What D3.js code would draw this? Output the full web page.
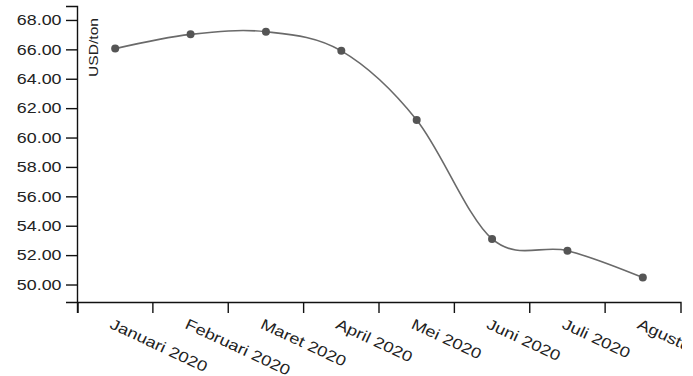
<!DOCTYPE html>
<html>
<head>
<meta charset="utf-8">
<script src="https://cdn.jsdelivr.net/npm/d3@7"></script>
<style>
  html, body { margin: 0; padding: 0; background: #fff; }
  svg { display: block; }
  text { font-family: "Liberation Sans", Arial, sans-serif; fill: #222; }
</style>
</head>
<body>
<svg id="chart" width="693" height="376"></svg>
<script>
const months = ["Januari 2020", "Februari 2020", "Maret 2020", "April 2020", "Mei 2020", "Juni 2020", "Juli 2020", "Agustus 2020"];
const prices = [66.05, 67.02, 67.2, 65.9, 61.2, 53.1, 52.3, 50.47];
const yTicks = [50, 52, 54, 56, 58, 60, 62, 64, 66, 68];
const yLabel = "USD/ton";

const svg = d3.select("#chart");
const mLeft = 77, mTop = 6, mBottom = 302;

// the reference frame cuts everything past x = 682
svg.append("defs").append("clipPath").attr("id", "frame")
  .append("rect").attr("x", 0).attr("y", 0).attr("width", 682).attr("height", 376);

const g = svg.append("g").attr("clip-path", "url(#frame)")
  .append("g").attr("transform", `translate(${mLeft},0)`);

const x = d3.scaleBand().domain(months).range([0.5, 603.5]);
const y = d3.scaleLinear().domain([48.81, 68.95]).range([mBottom, mTop]);

// Y axis
const yAxis = g.append("g")
  .call(d3.axisLeft(y).tickValues(yTicks).tickFormat(d3.format(".2f")).tickSize(11).tickSizeOuter(11));
yAxis.selectAll("path, line").attr("stroke", "#111").attr("stroke-width", 1.4);
yAxis.selectAll("text")
  .attr("x", 0)
  .attr("transform", "translate(-15.5,0) scale(1.19,1)")
  .style("font-size", "15px").attr("fill", "#222");

// X axis
const xAxis = g.append("g").attr("transform", `translate(0,${mBottom})`)
  .call(d3.axisBottom(x).tickSize(11).tickSizeOuter(11));
xAxis.selectAll("path, line").attr("stroke", "#111").attr("stroke-width", 1.4);
xAxis.selectAll(".tick line").attr("x1", -x.bandwidth() / 2).attr("x2", -x.bandwidth() / 2);
xAxis.selectAll(".tick text")
  .attr("x", 0).attr("y", 0).attr("dy", "0.71em")
  .attr("transform", "translate(-2,16) rotate(25) scale(1.22,1)")
  .style("text-anchor", "start")
  .style("font-size", "15px").attr("fill", "#222");

// Y label
g.append("text")
  .attr("transform", "translate(21,18) rotate(-90) scale(1.2,1)")
  .style("text-anchor", "end")
  .style("font-size", "13px")
  .text(yLabel);

// Line
const cx = d => x(d) + x.bandwidth() / 2;
const line = d3.line()
  .x((d, i) => cx(months[i]))
  .y(d => y(d))
  .curve(d3.curveCardinal);
g.append("path").datum(prices)
  .attr("d", line)
  .attr("fill", "none")
  .attr("stroke", "#6a6a6a")
  .attr("stroke-width", 1.6);

g.selectAll("circle.dot").data(prices).enter().append("circle")
  .attr("class", "dot")
  .attr("cx", (d, i) => cx(months[i]))
  .attr("cy", d => y(d))
  .attr("r", 4)
  .attr("fill", "#555");
</script>
</body>
</html>
